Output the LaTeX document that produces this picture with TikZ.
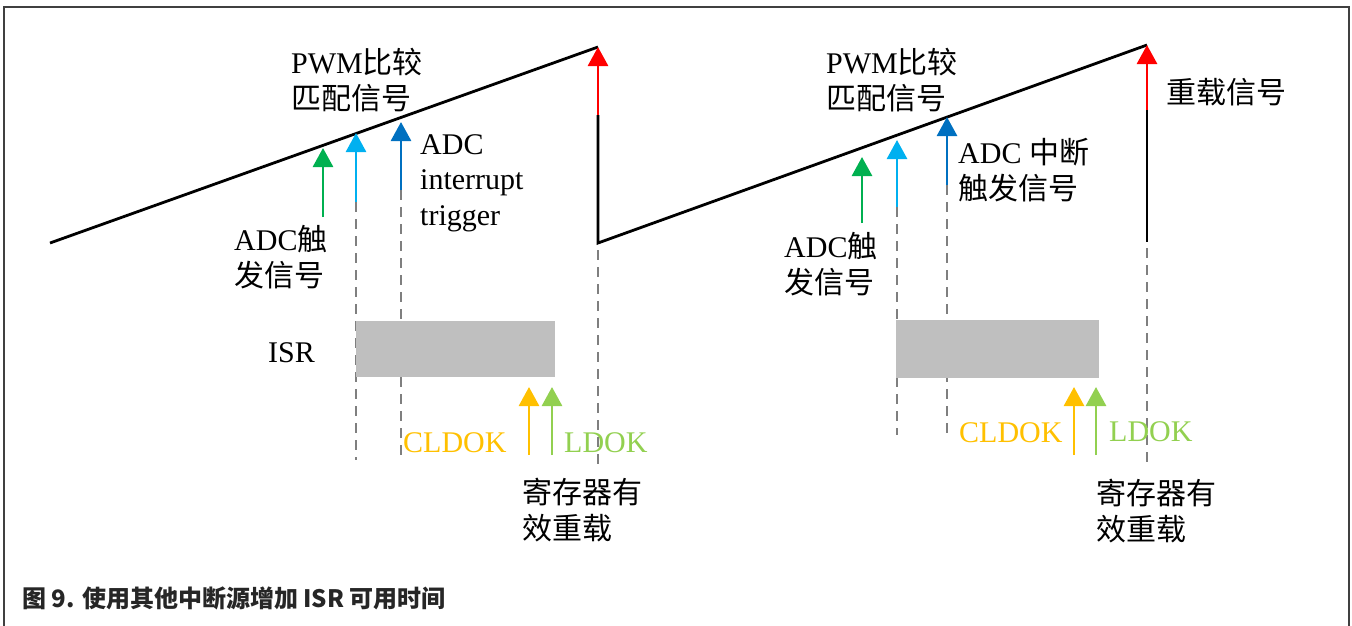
\documentclass[tikz,border=0pt]{standalone}
\usepackage{fontspec}
\setmainfont{Liberation Serif}
\newfontfamily\cjk{Noto Sans CJK SC}
\usetikzlibrary{arrows.meta}
\definecolor{frm}{HTML}{404040}
\definecolor{sgreen}{HTML}{00B050}
\definecolor{sltblue}{HTML}{00B0F0}
\definecolor{sdkblue}{HTML}{0070C0}
\definecolor{sred}{HTML}{FF0000}
\definecolor{sorange}{HTML}{FFC000}
\definecolor{slime}{HTML}{92D050}
\definecolor{guidegray}{HTML}{7F7F7F}
\definecolor{boxgray}{HTML}{BFBFBF}
\definecolor{captxt}{HTML}{262626}
\definecolor{cjktxt}{HTML}{1A1A1A}
\begin{document}
\begin{tikzpicture}[x=1pt,y=-1pt,
  saw/.style={line width=2.8pt, black},
  sig/.style={line width=2.8pt, -{Triangle[width=20pt,length=19pt]}},
  guide/.style={guidegray, line width=2.4pt, dash pattern=on 10pt off 7pt},
  lbl/.style={inner sep=0pt, anchor=west, align=left, font=\fontsize{30}{35.5}\selectfont},
  isrbox/.style={fill=boxgray, draw=none, inner sep=0pt, anchor=north west}]
\useasboundingbox (0,0) rectangle (1352,625);
% frame
\draw[frm, line width=2.5pt] (4,630) -- (4,7) -- (1349,7) -- (1349,630);

% coordinates
\coordinate (s0) at (50,243);
\coordinate (p1) at (598,47);
\coordinate (r1) at (598,115);
\coordinate (v1) at (598,243);
\coordinate (p2) at (1147,45);
\coordinate (r2) at (1147,110);
\coordinate (v2) at (1147,242);

% dashed guides
\coordinate (gA1) at (356,202); \coordinate (gA1e) at (356,460);
\coordinate (gB1) at (401,190); \coordinate (gB1e) at (401,460);
\coordinate (gC1) at (598,250); \coordinate (gC1e) at (598,470);
\coordinate (gA2) at (897,207); \coordinate (gA2e) at (897,435);
\coordinate (gB2) at (947,185); \coordinate (gB2e) at (947,435);
\coordinate (gC2) at (1147,180); \coordinate (gC2e) at (1147,468);
\draw[guide] (gA1) -- (gA1e);
\draw[guide] (gB1) -- (gB1e);
\draw[guide] (gC1) -- (gC1e);
\draw[guide] (gA2) -- (gA2e);
\draw[guide] (gB2) -- (gB2e);
\draw[guide] (gC2) -- (gC2e);

% ISR boxes
\node[isrbox, minimum width=199pt, minimum height=56pt] (box1) at (356,321) {};
\node[isrbox, minimum width=203pt, minimum height=58pt] (box2) at (896,320) {};

% sawtooth
\draw[saw] (s0) -- (p1);
\draw[saw] (r1) -- (v1) -- (p2);
\draw[saw] (r2) -- (v2);

% reload arrows
\draw[sig, sred] (r1) -- (p1);
\draw[sig, sred] (r2) -- (p2);

% cycle 1 arrows
\coordinate (g1b) at (323,217); \coordinate (g1t) at (323,148);
\coordinate (l1b) at (356,202); \coordinate (l1t) at (356,133);
\coordinate (d1b) at (401,190); \coordinate (d1t) at (401,122);
\draw[sig, sgreen] (g1b) -- (g1t);
\draw[sig, sltblue] (l1b) -- (l1t);
\draw[sig, sdkblue] (d1b) -- (d1t);
\coordinate (o1b) at (529,455); \coordinate (o1t) at (529,387);
\coordinate (m1b) at (552,455); \coordinate (m1t) at (552,387);
\draw[sig, sorange] (o1b) -- (o1t);
\draw[sig, slime] (m1b) -- (m1t);

% cycle 2 arrows
\coordinate (g2b) at (862,223); \coordinate (g2t) at (862,157);
\coordinate (l2b) at (897,207); \coordinate (l2t) at (897,140);
\coordinate (d2b) at (947,185); \coordinate (d2t) at (947,117);
\draw[sig, sgreen] (g2b) -- (g2t);
\draw[sig, sltblue] (l2b) -- (l2t);
\draw[sig, sdkblue] (d2b) -- (d2t);
\coordinate (o2b) at (1074,455); \coordinate (o2t) at (1074,387);
\coordinate (m2b) at (1096,455); \coordinate (m2t) at (1096,387);
\draw[sig, sorange] (o2b) -- (o2t);
\draw[sig, slime] (m2b) -- (m2t);

% labels cycle 1
\node[lbl] (pwm1) at (291,80) {PWM{\cjk 比较}\\{\cjk 匹配信号}};
\node[lbl] (adct1) at (234,257) {ADC{\cjk 触}\\{\cjk 发信号}};
\node[lbl] (adci) at (420,183) {ADC\\interrupt\\trigger};
\node[lbl] (isr1) at (268,353) {ISR};
\node[lbl, text=sorange] (cldok1) at (403,443) {CLDOK};
\node[lbl, text=slime] (ldok1) at (564,443) {LDOK};
\node[lbl] (reg1) at (522,510) {{\cjk 寄存器有}\\{\cjk 效重载}};

% labels cycle 2
\node[lbl] (pwm2) at (826,80) {PWM{\cjk 比较}\\{\cjk 匹配信号}};
\node[lbl] (reload) at (1166,92) {{\cjk 重载信号}};
\node[lbl] (adczd) at (958,170) {ADC {\cjk 中断}\\{\cjk 触发信号}};
\node[lbl] (adct2) at (784,264) {ADC{\cjk 触}\\{\cjk 发信号}};
\node[lbl, text=sorange] (cldok2) at (959,433) {CLDOK};
\node[lbl, text=slime] (ldok2) at (1109,432) {LDOK};
\node[lbl] (reg2) at (1096,511) {{\cjk 寄存器有}\\{\cjk 效重载}};

% caption
\node[inner sep=0pt, anchor=west, text=captxt, font=\cjk\bfseries\fontsize{24}{28}\selectfont] (cap) at (22,598) {图 9. 使用其他中断源增加 ISR 可用时间};
\end{tikzpicture}
\end{document}
